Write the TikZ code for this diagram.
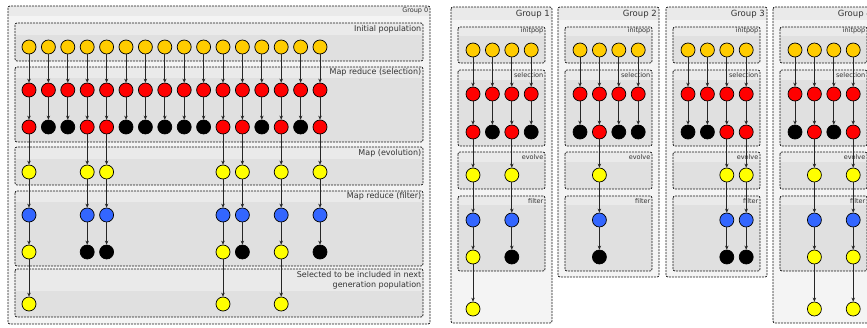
\documentclass[tikz,border=0pt]{standalone}
\usepackage{fontspec}
\setmainfont{DejaVu Sans}
\usetikzlibrary{arrows.meta}
\definecolor{cgold}{HTML}{FFCC00}
\definecolor{cred}{HTML}{FF0000}
\definecolor{cyel}{HTML}{FFFF00}
\definecolor{cblue}{HTML}{3366FF}
\definecolor{cblk}{HTML}{000000}
\definecolor{grpbg}{HTML}{F4F4F4}
\definecolor{grpstrip}{HTML}{EAEAEA}
\definecolor{subbg}{HTML}{E0E0E0}
\definecolor{substrip}{HTML}{EAEAEA}
\tikzset{
 ind/.style={circle, draw=black, line width=0.7pt, minimum size=14pt, inner sep=0pt},
 flow/.style={draw=black!85, line width=0.8pt, -{Stealth[length=4pt,width=3.5pt]}},
 frame/.style={draw=black!90, dash pattern=on 2pt off 1pt, line width=0.75pt, rounded corners=2pt},
 lbl/.style={font=\fontsize{8}{10}\selectfont, text=black!80, anchor=east, inner sep=1pt},
 slbl/.style={font=\fontsize{6.5}{7}\selectfont, text=black!80, anchor=east, inner sep=1pt},
}
% panel: x1 y1 x2 y2 ystrip body strip
\newcommand\panelbox[7]{%
  \begin{scope}
    \clip[rounded corners=2pt] (#1,#2) rectangle (#3,#4);
    \fill[#6] (#1,#2) rectangle (#3,#4);
    \fill[#7] (#1,#2) rectangle (#3,#5);
  \end{scope}
  \draw[frame] (#1,#2) rectangle (#3,#4);
}
% small group: number, left, bottom, row2 colours, evolve columns, filter results
\newcommand\smallgroup[6]{%
  \panelbox{#2}{7}{#2+101}{#3}{20}{grpbg}{grpstrip}
  \node[lbl, font=\fontsize{8.5}{10}\selectfont] (gl#1) at (#2+100,14) {Group #1};
  \panelbox{#2+7}{27}{#2+94}{63}{36}{subbg}{substrip}
  \node[slbl] (ip#1) at (#2+93.5,31) {initpop};
  \panelbox{#2+7}{70}{#2+94}{146}{80}{subbg}{substrip}
  \node[slbl] (se#1) at (#2+93.5,75) {selection};
  \panelbox{#2+7}{152}{#2+94}{189}{162}{subbg}{substrip}
  \node[slbl] (ev#1) at (#2+93.5,157) {evolve};
  \panelbox{#2+7}{196}{#2+94}{271}{205}{subbg}{substrip}
  \node[slbl] (fi#1) at (#2+93.5,201) {filter};
  \foreach \i in {0,...,3}{
    \pgfmathsetmacro\xx{#2+22+19.4*\i}
    \node[ind, fill=cgold] (g#1a\i) at (\xx,50) {};
    \node[ind, fill=cred] (g#1b\i) at (\xx,94) {};
    \draw[flow] (g#1a\i) -- (g#1b\i);
  }
  \foreach \c [count=\i from 0] in {#4}{
    \pgfmathsetmacro\xx{#2+22+19.4*\i}
    \node[ind, fill=\c] (g#1c\i) at (\xx,132) {};
    \draw[flow] (g#1b\i) -- (g#1c\i);
  }
  \foreach \i in {#5}{
    \pgfmathsetmacro\xx{#2+22+19.4*\i}
    \node[ind, fill=cyel] (g#1d\i) at (\xx,175) {};
    \node[ind, fill=cblue] (g#1e\i) at (\xx,220) {};
    \draw[flow] (g#1c\i) -- (g#1d\i);
    \draw[flow] (g#1d\i) -- (g#1e\i);
  }
  \foreach \i/\c in {#6}{
    \pgfmathsetmacro\xx{#2+22+19.4*\i}
    \node[ind, fill=\c] (g#1f\i) at (\xx,257) {};
    \draw[flow] (g#1e\i) -- (g#1f\i);
  }
}
\begin{document}
\begin{tikzpicture}[x=1pt,y=-1pt]
\useasboundingbox (0,0) rectangle (867,327);
% ---------- Group 0 ----------
\panelbox{8}{6}{430}{324}{16}{grpbg}{grpstrip}
\node[slbl] (gl0) at (429.5,11) {Group 0};
\panelbox{15}{23}{423}{61}{35}{subbg}{substrip}
\node[lbl] (l01) at (422.5,29) {Initial population};
\panelbox{15}{67}{423}{142}{78}{subbg}{substrip}
\node[lbl] (l02) at (422.5,72.5) {Map reduce (selection)};
\panelbox{15}{147}{423}{185}{159}{subbg}{substrip}
\node[lbl] (l03) at (422.5,153) {Map (evolution)};
\panelbox{15}{191}{423}{266}{202}{subbg}{substrip}
\node[lbl] (l04) at (422.5,196.5) {Map reduce (filter)};
\panelbox{15}{269}{423}{317}{291}{subbg}{substrip}
\node[lbl, anchor=north east, align=right] (l05) at (422.5,270.5) {Selected to be included in next\\generation population};
\foreach \i in {0,...,15}{
  \pgfmathsetmacro\xx{29+19.4*\i}
  \node[ind, fill=cgold] (g0a\i) at (\xx,47) {};
  \node[ind, fill=cred] (g0b\i) at (\xx,90) {};
  \draw[flow] (g0a\i) -- (g0b\i);
}
\foreach \c [count=\i from 0] in {cred,cblk,cblk,cred,cred,cblk,cblk,cblk,cblk,cblk,cred,cred,cblk,cred,cblk,cred}{
  \pgfmathsetmacro\xx{29+19.4*\i}
  \node[ind, fill=\c] (g0c\i) at (\xx,127) {};
  \draw[flow] (g0b\i) -- (g0c\i);
}
\foreach \i in {0,3,4,10,11,13,15}{
  \pgfmathsetmacro\xx{29+19.4*\i}
  \node[ind, fill=cyel] (g0d\i) at (\xx,172) {};
  \node[ind, fill=cblue] (g0e\i) at (\xx,215) {};
  \draw[flow] (g0c\i) -- (g0d\i);
  \draw[flow] (g0d\i) -- (g0e\i);
}
\foreach \i/\c in {0/cyel,3/cblk,4/cblk,10/cyel,11/cblk,13/cyel,15/cblk}{
  \pgfmathsetmacro\xx{29+19.4*\i}
  \node[ind, fill=\c] (g0f\i) at (\xx,252) {};
  \draw[flow] (g0e\i) -- (g0f\i);
}
\foreach \i in {0,10,13}{
  \pgfmathsetmacro\xx{29+19.4*\i}
  \node[ind, fill=cyel] (g0g\i) at (\xx,304) {};
  \draw[flow] (g0f\i) -- (g0g\i);
}
% ---------- Groups 1-4 ----------
\smallgroup{1}{451}{323}{cred,cblk,cred,cblk}{0,2}{0/cyel,2/cblk}
\smallgroup{2}{558}{277}{cblk,cred,cblk,cblk}{1}{1/cblk}
\smallgroup{3}{666}{277}{cblk,cblk,cred,cred}{2,3}{2/cblk,3/cblk}
\smallgroup{4}{773}{323}{cblk,cred,cblk,cred}{1,3}{1/cyel,3/cyel}
\node[ind, fill=cyel] (g1g0) at (473,309) {};
\draw[flow] (g1f0) -- (g1g0);
\foreach \i in {1,3}{
  \pgfmathsetmacro\xx{773+22+19.4*\i}
  \node[ind, fill=cyel] (g4g\i) at (\xx,309) {};
  \draw[flow] (g4f\i) -- (g4g\i);
}
\end{tikzpicture}
\end{document}
